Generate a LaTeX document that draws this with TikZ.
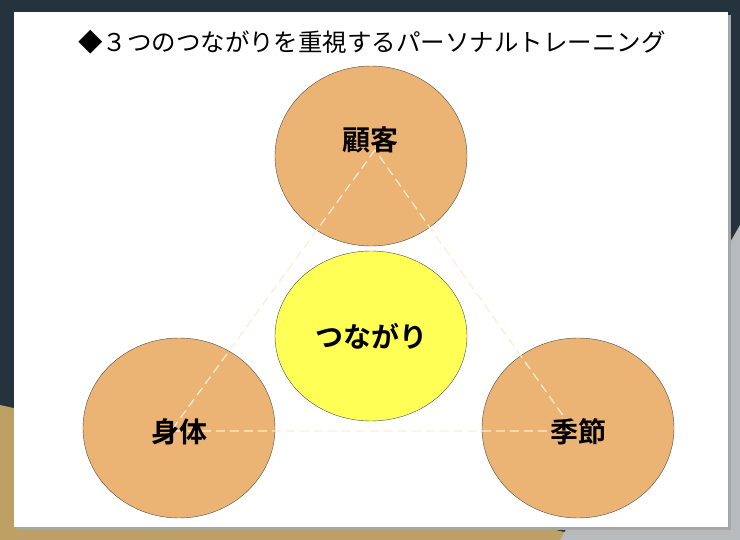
\documentclass[tikz,border=0pt]{standalone}
\usepackage{fontspec}
\setmainfont{Noto Sans CJK JP}
\newfontfamily\jpb{Noto Sans CJK JP Bold}
\usetikzlibrary{shapes.geometric}
\definecolor{navy}{HTML}{25333F}
\definecolor{tanbg}{HTML}{BFA064}
\definecolor{grayedge}{HTML}{B8BBBE}
\definecolor{orangefill}{HTML}{EBB374}
\definecolor{yellowfill}{HTML}{FFFF55}
\definecolor{dashcol}{HTML}{FCEFD2}
\tikzset{
  circ/.style={ellipse, draw=black!70, line width=0.4pt, minimum width=192pt},
  lab/.style={font=\jpb\fontsize{28}{32}\selectfont, text=black},
  tri/.style={draw=dashcol, line width=1.2pt, dash pattern=on 9pt off 5pt},
}
\begin{document}
\begin{tikzpicture}[x=1pt,y=-1pt]
\useasboundingbox (0,0) rectangle (740,540);
\fill[navy] (0,0) rectangle (740,540);
\fill[tanbg] (0,405) -- (600,540) -- (0,540) -- cycle;
\fill[grayedge] (740,225) -- (740,540) -- (560,540) -- cycle;
\fill[black!35] (17,15) rectangle (731,530);
\fill[white] (14,12) rectangle (728,527);
\node (title) at (372,42) {\fontsize{24.5}{28}\selectfont ◆３つのつながりを重視するパーソナルトレーニング};
\node[circ, fill=orangefill, minimum height=180pt] (top) at (371,156) {};
\node[circ, fill=yellowfill, minimum height=170pt] (mid) at (371,336) {};
\node[circ, fill=orangefill, minimum height=180pt] (left) at (179,428) {};
\node[circ, fill=orangefill, minimum height=180pt] (right) at (578,428) {};
\coordinate (ct) at (375,150);
\coordinate (cl) at (171,431);
\coordinate (cr) at (574,431);
\draw[tri] (ct) -- (cl) -- (cr) -- cycle;
\node[lab] (t1) at (370,140) {顧客};
\node[lab] (t2) at (371,336) {つながり};
\node[lab] (t3) at (179,432) {身体};
\node[lab] (t4) at (578,432) {季節};
\end{tikzpicture}
\end{document}
